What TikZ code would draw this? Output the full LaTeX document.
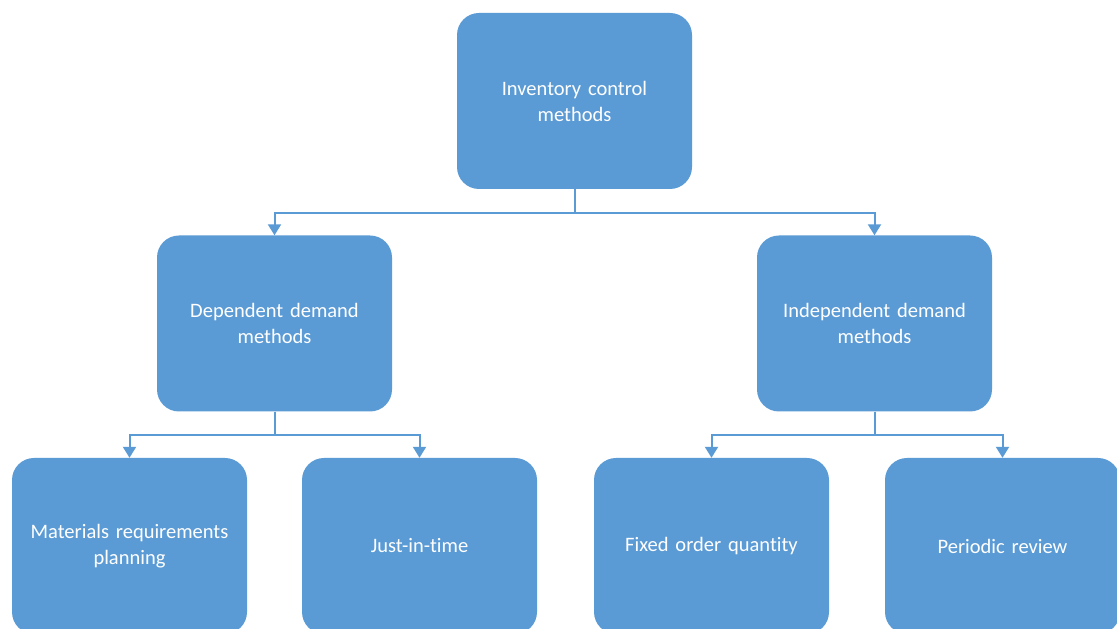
\documentclass[tikz,border=0pt]{standalone}
\usepackage{fontspec}
\setmainfont[Ligatures=NoCommon, WordSpace=0.8]{Carlito}
\usetikzlibrary{arrows.meta}
\definecolor{boxblue}{HTML}{5B9BD5}
\tikzset{
  box/.style={fill=boxblue, rounded corners=22pt, minimum width=235pt, minimum height=176pt,
    inner sep=0pt, text=white, align=center, text width=225pt,
    font=\fontsize{20.5}{26}\selectfont},
  conn/.style={draw=boxblue, line width=2pt, -{Triangle[width=13pt,length=11pt]}}
}
\begin{document}
\begin{tikzpicture}[x=1pt,y=1pt]
\useasboundingbox (0,0) rectangle (1117,629);
\clip (0,0) rectangle (1117,629);
\fill[white] (0,0) rectangle (1117,629);
% boxes
\node[box] (top) at (574.5,528) {Inventory control\\methods};
\node[box] (dep) at (274.5,305.5) {Dependent demand\\methods};
\node[box] (ind) at (874.5,305.5) {Independent demand\\methods};
\node[box] (mrp) at (129.5,83) {Materials requirements\\planning};
\node[box] (jit) at (419.5,83) {Just-in-time};
\node[box] (foq) at (711.5,83) {Fixed order quantity};
\node[box] (per) at (1002.5,83) {Periodic review};
% connectors
\draw[conn] (top.south) -- ++(0,-24) -| (dep.north);
\draw[conn] (top.south) -- ++(0,-24) -| (ind.north);
\draw[conn] (dep.south) -- ++(0,-23) -| (mrp.north);
\draw[conn] (dep.south) -- ++(0,-23) -| (jit.north);
\draw[conn] (ind.south) -- ++(0,-23) -| (foq.north);
\draw[conn] (ind.south) -- ++(0,-23) -| (per.north);
\end{tikzpicture}
\end{document}
